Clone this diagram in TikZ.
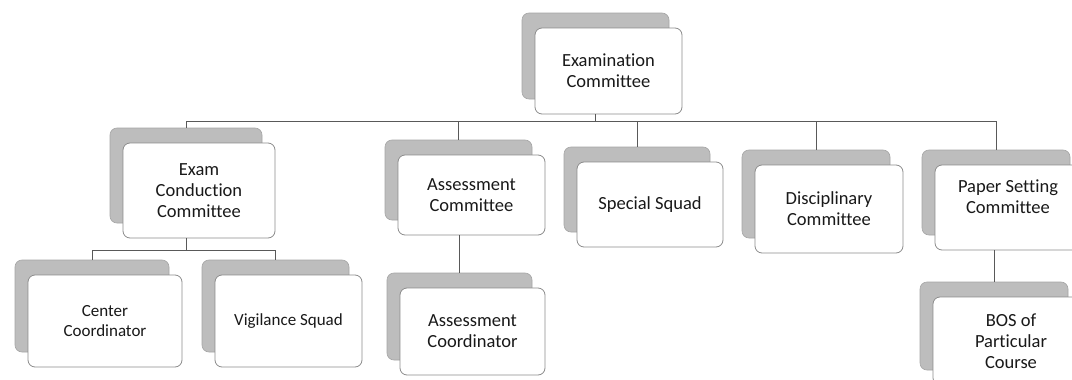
\documentclass[tikz,border=0pt]{standalone}
\usepackage{fontspec}
\setmainfont[Ligatures=NoCommon]{Carlito}
\usetikzlibrary{calc}
\newcommand\OrgBox[7][]{%
  \node[backbox, minimum width=#5, minimum height=#6] (#2b) at (#3-13,#4-15) {};
  \node[frontbox, minimum width=#5, minimum height=#6, #1] (#2) at (#3,#4) {#7};
}
\begin{document}
\begin{tikzpicture}[x=1pt,y=-1pt,
  frontbox/.style={draw=black!45, line width=0.8pt, fill=white, rounded corners=7pt,
    align=center, inner sep=2pt, font=\fontsize{18.5}{21}\selectfont, text=black!90},
  backbox/.style={draw=gray!70, line width=0.6pt, fill=gray!52, rounded corners=7pt, inner sep=0pt},
  txt/.style={align=center, inner sep=0pt, font=\fontsize{18.5}{21}\selectfont, text=black!90},
  conn/.style={draw=black!65, line width=1pt},
]
\useasboundingbox (0,0) rectangle (1072,380);
\fill[white] (0,0) rectangle (1072,380);

% level 1
\OrgBox{ec}{608.5}{71}{147}{86}{Examination\\Committee}
% level 2
\OrgBox{ecc}{199}{190.5}{152}{95}{Exam\\Conduction\\Committee}
\OrgBox{ac}{471.5}{195}{147}{80}{Assessment\\Committee}
\OrgBox{ss}{650}{204.5}{146}{85}{Special Squad}
\OrgBox{dc}{829}{209}{148}{88}{Disciplinary\\Committee}
\OrgBox{psc}{1009}{207.5}{148}{85}{}
\node[txt] (psct) at (1008,197) {Paper Setting\\Committee};
% level 3
\OrgBox[font=\fontsize{17}{20}\selectfont]{cc}{105}{321}{154}{92}{Center\\Coordinator}
\OrgBox[font=\fontsize{17}{20}\selectfont]{vs}{288.5}{321}{147}{92}{Vigilance Squad}
\OrgBox{aco}{472.5}{331.5}{145}{87}{Assessment\\Coordinator}
\OrgBox{bos}{1007}{341}{148}{88}{}
\node[txt] (bost) at (1011,341) {BOS of\\Particular\\Course};

% connectors
\coordinate (bus) at (0,121);
\coordinate (bus2) at (0,250);
\draw[conn] (ecb.center |- ec.south) -- (ecb.center |- bus);
\draw[conn] (eccb.north) -- (eccb.north |- bus) -- (pscb.north |- bus) -- (pscb.north);
\draw[conn] (acb.north |- bus) -- (acb.north);
\draw[conn] (ssb.north |- bus) -- (ssb.north);
\draw[conn] (dcb.north |- bus) -- (dcb.north);
\draw[conn] (eccb.center |- ecc.south) -- (eccb.center |- bus2);
\draw[conn] (ccb.north) -- (ccb.north |- bus2) -- (vsb.north |- bus2) -- (vsb.north);
\draw[conn] (acob.north |- ac.south) -- (acob.north);
\draw[conn] (bosb.north |- psc.south) -- (bosb.north);
\end{tikzpicture}
\end{document}
